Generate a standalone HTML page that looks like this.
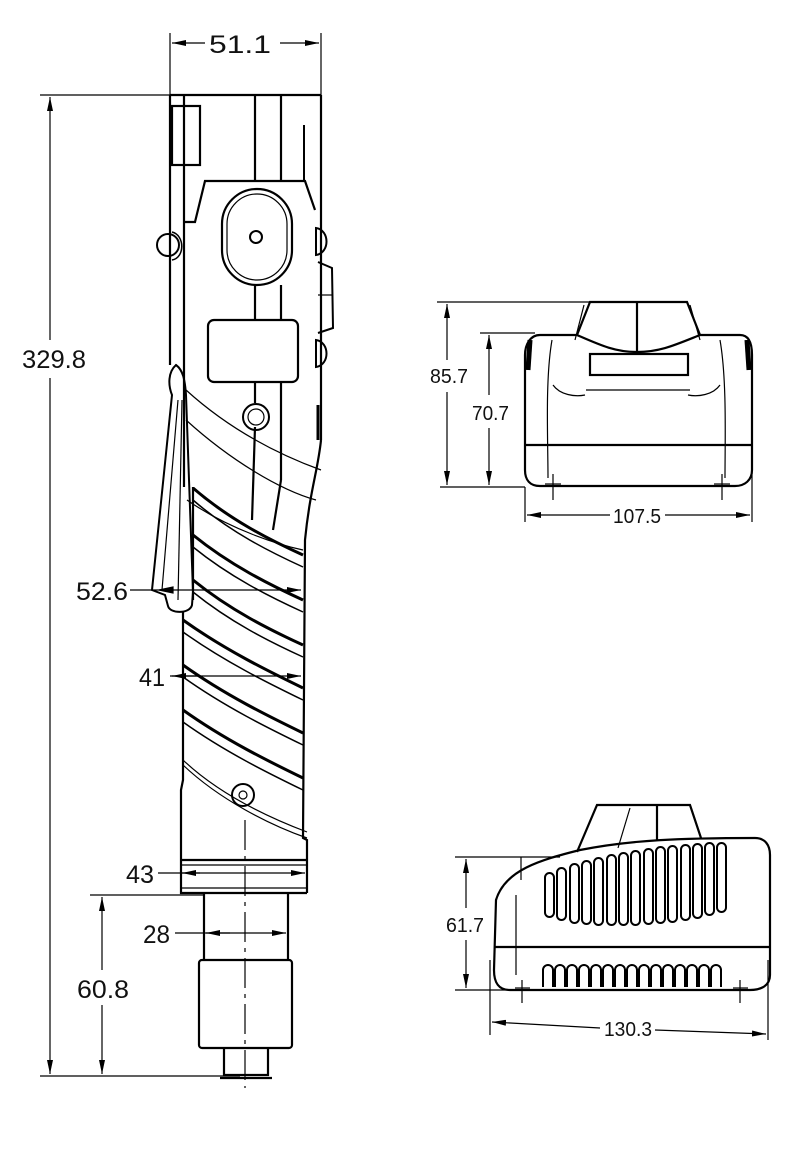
<!DOCTYPE html>
<html><head><meta charset="utf-8"><style>
html,body{margin:0;padding:0;background:#fff}
svg{display:block}
text{font-family:"Liberation Sans",sans-serif;fill:#111}
</style></head><body>
<svg width="800" height="1169" viewBox="0 0 800 1169" xmlns="http://www.w3.org/2000/svg">
<defs>
<marker id="a" viewBox="0 0 14 6" refX="14" refY="3" markerWidth="14" markerHeight="6" orient="auto-start-reverse" markerUnits="userSpaceOnUse"><path d="M0,0L14,3L0,6z" fill="#000"/></marker>
</defs>
<g stroke="#000" fill="none">
<g stroke-width="1.2">
<line x1="170" y1="33" x2="170" y2="95"/><line x1="321" y1="33" x2="321" y2="95"/>
<line x1="172" y1="43" x2="205" y2="43" marker-start="url(#a)"/>
<line x1="280" y1="43" x2="319" y2="43" marker-end="url(#a)"/>
<line x1="40" y1="95" x2="170" y2="95"/>
<line x1="50" y1="97" x2="50" y2="340" marker-start="url(#a)"/>
<line x1="50" y1="378" x2="50" y2="1074" marker-end="url(#a)"/>
<line x1="40" y1="1076" x2="240" y2="1076"/>
<line x1="90" y1="895" x2="205" y2="895"/>
<line x1="102" y1="897" x2="102" y2="970" marker-start="url(#a)"/>
<line x1="102" y1="1005" x2="102" y2="1074" marker-end="url(#a)"/>
<line x1="130" y1="590" x2="301" y2="590" marker-end="url(#a)"/>
<path d="M159,590 L173,587 L173,593z" fill="#000"/>
<line x1="170" y1="676" x2="301" y2="676" marker-end="url(#a)"/>
<line x1="172" y1="676" x2="200" y2="676" marker-start="url(#a)"/>
<line x1="158" y1="873" x2="305" y2="873" marker-end="url(#a)"/>
<line x1="182" y1="873" x2="200" y2="873" marker-start="url(#a)"/>
<line x1="175" y1="933" x2="286" y2="933" marker-end="url(#a)"/>
<line x1="206" y1="933" x2="230" y2="933" marker-start="url(#a)"/>
</g>
<g stroke-width="2.2">
<line x1="170" y1="95" x2="321" y2="95"/>
<line x1="321" y1="95" x2="321" y2="440"/>
<path d="M321,440 C318,470 310,490 305,540 L303,838 L307,840 L307,893"/>
<line x1="170" y1="95" x2="170" y2="365"/>
<line x1="184" y1="95" x2="184" y2="470"/>
<rect x="172" y="106" width="28" height="59"/>
<path d="M184,222 L195,222 L205,181 L305,181 L315,210"/>
<line x1="255" y1="95" x2="255" y2="181"/><line x1="281" y1="95" x2="281" y2="181"/>
<line x1="255" y1="285" x2="255" y2="320"/><line x1="281" y1="285" x2="281" y2="320"/>
<line x1="255" y1="382" x2="255" y2="403"/><line x1="281" y1="382" x2="281" y2="480"/>
<path d="M255,427 L252,520"/><path d="M281,480 L273,530"/>
<rect x="222" y="189" width="70" height="96" rx="35"/>
<rect x="208" y="320" width="90" height="62" rx="6"/>
<path d="M184,470 L184,487 M193,487 L193,600"/>
<path d="M183,612 L183,780 L181,790 L181,893 L307,893"/>
<line x1="181" y1="860" x2="307" y2="860"/>
<line x1="204" y1="893" x2="204" y2="960"/><line x1="288" y1="893" x2="288" y2="960"/>
<rect x="199" y="960" width="93" height="88" rx="3"/>
<path d="M224,1048 L224,1075 L268,1075 L268,1048"/>
<line x1="220" y1="1078" x2="272" y2="1078"/>
</g>
<g stroke-width="1.2">
<rect x="227" y="194" width="60" height="86" rx="30"/>
<circle cx="256" cy="237" r="6" stroke-width="2"/>
<circle cx="256" cy="417" r="13" stroke-width="2"/><circle cx="256" cy="417" r="8"/>
<circle cx="168" cy="245" r="11" stroke-width="2"/>
<path d="M172,232 C185,235 185,258 172,260" stroke-width="1.5"/>
<path d="M316,228 C330,230 330,253 316,255 Z" stroke-width="2"/>
<path d="M316,340 C330,342 330,365 316,367 Z" stroke-width="2"/>
<path d="M318,262 L332,268 L333,328 L318,333" stroke-width="2"/>
<line x1="318" y1="295" x2="333" y2="295"/>
<path d="M304,125 L304,180" stroke-width="2"/>
<path d="M318,405 L318,440" stroke-width="3"/>
<path d="M186,390 C230,430 280,455 321,470"/>
<path d="M186,420 C230,460 280,490 316,500"/>
<path d="M187,500 C230,530 280,545 303,550"/>
<path d="M183,765 C220,800 270,825 307,838"/>
<path d="M183,760 C220,795 270,818 307,832"/>
<circle cx="243" cy="795" r="11" stroke-width="2"/><circle cx="243" cy="795" r="4"/>
<line x1="181" y1="865" x2="307" y2="865"/><line x1="181" y1="888" x2="307" y2="888"/>
<line x1="245" y1="820" x2="245" y2="1088" stroke-dasharray="30,6,4,6"/>
</g>
<g stroke-width="3">
<path d="M193,488 C230,520 270,540 303,555"/>
<path d="M193,535 C230,565 270,585 303,600"/>
<path d="M193,580 C230,610 270,630 303,645"/>
<path d="M183,620 C225,650 270,672 303,688"/>
<path d="M183,665 C225,695 270,717 303,733"/>
<path d="M183,710 C225,740 270,762 303,778"/>
</g>
<g stroke-width="1.5">
<path d="M193,500 C230,532 270,552 303,567"/>
<path d="M193,547 C230,577 270,597 303,612"/>
<path d="M193,592 C230,622 270,642 303,657"/>
<path d="M183,632 C225,662 270,684 303,700"/>
<path d="M183,677 C225,707 270,729 303,745"/>
<path d="M183,722 C225,752 270,774 303,790"/>
</g>
<g stroke-width="2">
<path d="M176,365 C168,372 168,385 172,395 L152,590 L165,595 L168,606 C170,614 190,614 192,605 L193,592 L186,395 C185,380 183,370 176,365Z"/>
<path d="M178,400 L162,590" stroke-width="1.2"/><path d="M182,400 L178,600" stroke-width="1.2"/>
</g>
<!-- charger front -->
<g stroke-width="1.2">
<line x1="437" y1="302" x2="590" y2="302"/><line x1="480" y1="333" x2="535" y2="333"/>
<line x1="440" y1="487" x2="525" y2="487"/>
<line x1="447" y1="304" x2="447" y2="360" marker-start="url(#a)"/>
<line x1="447" y1="392" x2="447" y2="485" marker-end="url(#a)"/>
<line x1="489" y1="335" x2="489" y2="395" marker-start="url(#a)"/>
<line x1="489" y1="428" x2="489" y2="485" marker-end="url(#a)"/>
<line x1="525" y1="487" x2="525" y2="522"/><line x1="752" y1="460" x2="752" y2="522"/>
<line x1="527" y1="515" x2="610" y2="515" marker-start="url(#a)"/>
<line x1="665" y1="515" x2="750" y2="515" marker-end="url(#a)"/>
<line x1="553" y1="474" x2="553" y2="500"/><line x1="545" y1="484" x2="561" y2="484"/>
<line x1="722" y1="474" x2="722" y2="500"/><line x1="714" y1="484" x2="730" y2="484"/>
<path d="M553,385 C560,395 575,397 585,395"/><path d="M720,385 C713,395 698,397 688,395"/>
<line x1="586" y1="390" x2="690" y2="390"/>
<path d="M552,340 C545,380 548,440 548,478"/><path d="M720,340 C727,380 725,440 725,478"/>
<path d="M584,305 L575,340"/><path d="M690,305 L700,340"/>
</g>
<g stroke-width="2.2">
<path d="M540,335 L577,335 L590,302 L687,302 L700,335 L740,335 C750,335 752,345 752,355 L752,470 C752,480 745,486 735,486 L540,486 C530,486 525,480 525,470 L525,355 C525,345 530,335 540,335Z"/>
<line x1="637" y1="302" x2="637" y2="352"/>
<path d="M577,335 C600,345 615,352 637,352 C660,352 675,345 700,335"/>
<rect x="590" y="354" width="98" height="21"/>
<line x1="525" y1="445" x2="752" y2="445"/>
<path d="M530,340 L528,370" stroke-width="5"/><path d="M747,340 L749,370" stroke-width="5"/>
</g>
<!-- charger side -->
<g stroke-width="1.2">
<line x1="455" y1="857" x2="560" y2="857"/><line x1="455" y1="990" x2="520" y2="990"/>
<line x1="466" y1="859" x2="466" y2="908" marker-start="url(#a)"/>
<line x1="466" y1="940" x2="466" y2="988" marker-end="url(#a)"/>
<line x1="490" y1="960" x2="490" y2="1035"/><line x1="768" y1="960" x2="768" y2="1040"/>
<line x1="492" y1="1022" x2="600" y2="1028" marker-start="url(#a)"/>
<line x1="655" y1="1030" x2="766" y2="1034" marker-end="url(#a)"/>
<line x1="522" y1="980" x2="522" y2="1003"/><line x1="515" y1="988" x2="530" y2="988"/>
<line x1="740" y1="980" x2="740" y2="1003"/><line x1="733" y1="988" x2="748" y2="988"/>
<line x1="521" y1="857" x2="521" y2="880"/><line x1="516" y1="895" x2="516" y2="975"/>
<path d="M630,808 L618,848"/>
</g>
<g stroke-width="2.2">
<path d="M577,852 L597,805 L690,805 L701,838"/>
<line x1="657" y1="805" x2="657" y2="840"/>
<path d="M496,900 C505,870 540,860 580,850 C630,840 680,838 755,838 C765,838 770,845 770,855 L770,975 C770,985 762,990 750,990 L510,990 C498,990 494,982 494,970 Z"/>
<line x1="494" y1="947" x2="770" y2="947"/>
</g>
<g stroke-width="2">
<rect x="545" y="873" width="9" height="44" rx="4.5"/>
<rect x="557" y="868" width="9" height="52" rx="4.5"/>
<rect x="570" y="864" width="9" height="59" rx="4.5"/>
<rect x="582" y="861" width="9" height="63" rx="4.5"/>
<rect x="594" y="858" width="9" height="67" rx="4.5"/>
<rect x="607" y="855" width="9" height="70" rx="4.5"/>
<rect x="619" y="853" width="9" height="72" rx="4.5"/>
<rect x="631" y="851" width="9" height="74" rx="4.5"/>
<rect x="644" y="849" width="9" height="75" rx="4.5"/>
<rect x="656" y="847" width="9" height="76" rx="4.5"/>
<rect x="668" y="846" width="9" height="76" rx="4.5"/>
<rect x="681" y="845" width="9" height="75" rx="4.5"/>
<rect x="693" y="844" width="9" height="74" rx="4.5"/>
<rect x="705" y="843" width="9" height="72" rx="4.5"/>
<rect x="717" y="843" width="9" height="69" rx="4.5"/>
</g>
<g stroke-width="2">
<path d="M543,987 L543,970 a5,5 0 0 1 10,0 L553,987 M555,987 L555,970 a5,5 0 0 1 10,0 L565,987 M567,987 L567,970 a5,5 0 0 1 10,0 L577,987 M579,987 L579,970 a5,5 0 0 1 10,0 L589,987 M591,987 L591,970 a5,5 0 0 1 10,0 L601,987 M603,987 L603,970 a5,5 0 0 1 10,0 L613,987 M615,987 L615,970 a5,5 0 0 1 10,0 L625,987 M627,987 L627,970 a5,5 0 0 1 10,0 L637,987 M639,987 L639,970 a5,5 0 0 1 10,0 L649,987 M651,987 L651,970 a5,5 0 0 1 10,0 L661,987 M663,987 L663,970 a5,5 0 0 1 10,0 L673,987 M675,987 L675,970 a5,5 0 0 1 10,0 L685,987 M687,987 L687,970 a5,5 0 0 1 10,0 L697,987 M699,987 L699,970 a5,5 0 0 1 10,0 L709,987 M711,987 L711,970 a5,5 0 0 1 10,0 L721,987"/>
</g>
</g>
<g font-size="25">
<text x="209" y="53" textLength="62" lengthAdjust="spacingAndGlyphs">51.1</text>
<text x="22" y="368" textLength="64" lengthAdjust="spacingAndGlyphs">329.8</text>
<text x="76" y="600" textLength="52" lengthAdjust="spacingAndGlyphs">52.6</text>
<text x="139" y="686" textLength="26" lengthAdjust="spacingAndGlyphs">41</text>
<text x="126" y="883" textLength="28" lengthAdjust="spacingAndGlyphs">43</text>
<text x="143" y="943" textLength="27" lengthAdjust="spacingAndGlyphs">28</text>
<text x="77" y="998" textLength="52" lengthAdjust="spacingAndGlyphs">60.8</text>
</g>
<g font-size="20">
<text x="430" y="383" textLength="38" lengthAdjust="spacingAndGlyphs">85.7</text>
<text x="472" y="420" textLength="37" lengthAdjust="spacingAndGlyphs">70.7</text>
<text x="613" y="523" textLength="48" lengthAdjust="spacingAndGlyphs">107.5</text>
<text x="446" y="932" textLength="38" lengthAdjust="spacingAndGlyphs">61.7</text>
<text x="604" y="1036" textLength="48" lengthAdjust="spacingAndGlyphs">130.3</text>
</g>
</svg>
</body></html>
